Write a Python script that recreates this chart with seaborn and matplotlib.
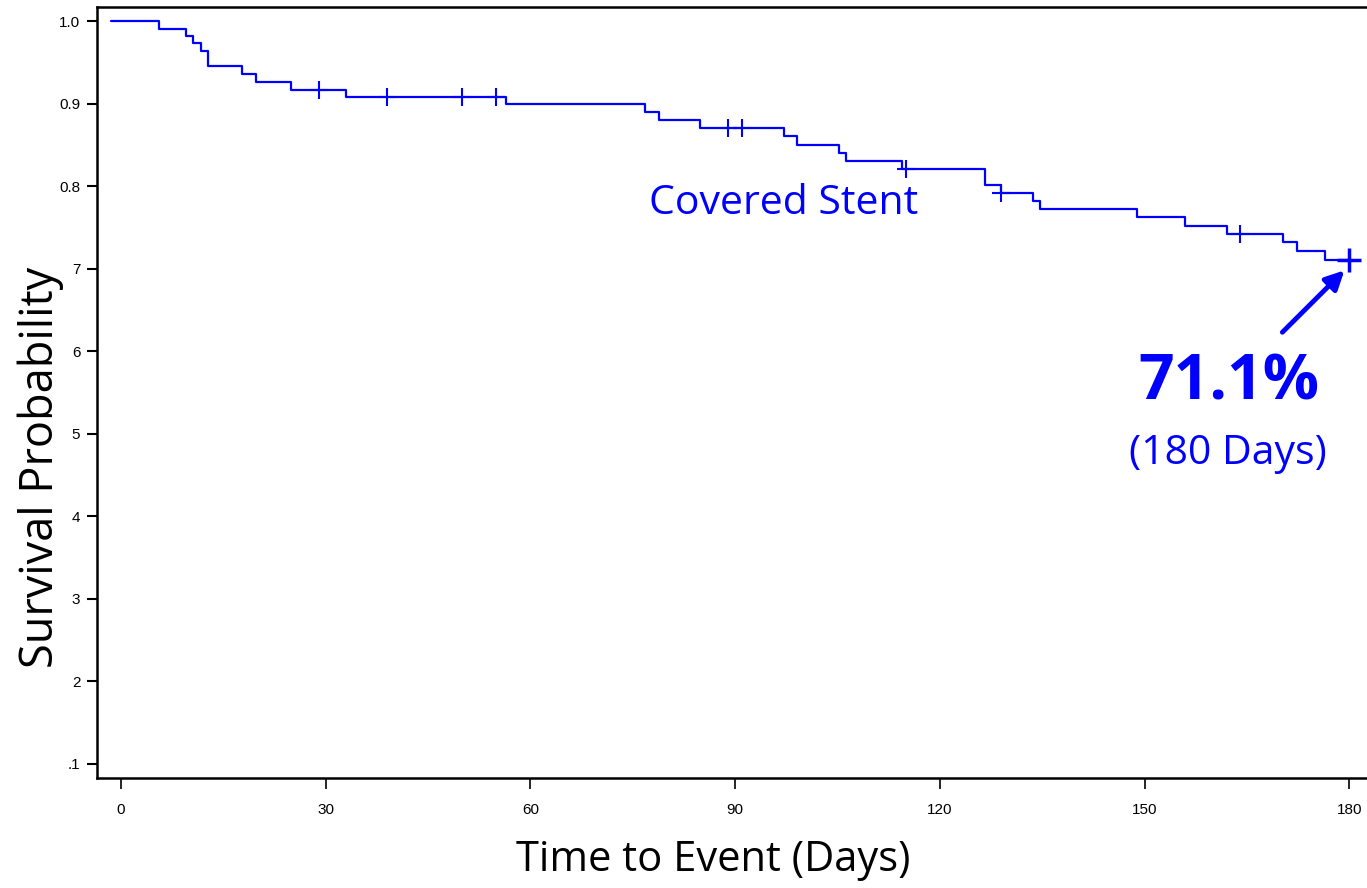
import matplotlib
matplotlib.use("Agg")
import matplotlib.pyplot as plt
import numpy as np
import pandas as pd
import seaborn as sns

# Kaplan-Meier steps (days, survival)
step_days = [-1.5, 5.6, 9.6, 10.6, 11.7, 12.7, 17.8, 19.8, 24.9, 33.0,
             56.4, 76.8, 78.8, 84.9, 97.1, 99.1, 105.2, 106.3, 114.4, 126.6,
             129.0, 133.7, 134.7, 148.9, 156.0, 162.1, 170.3, 172.3, 176.4, 180.0]
step_surv = [1.000, 0.990, 0.982, 0.973, 0.964, 0.945, 0.936, 0.926, 0.917, 0.908,
             0.899, 0.890, 0.880, 0.870, 0.861, 0.850, 0.840, 0.831, 0.821, 0.801,
             0.792, 0.782, 0.772, 0.762, 0.752, 0.742, 0.732, 0.722, 0.711, 0.711]

# censored observations
censor_days = [29, 39, 50, 55, 89, 91, 115, 129, 164]
censor_surv = [0.917, 0.908, 0.908, 0.908, 0.870, 0.870, 0.821, 0.792, 0.742]
final_day = [180]
final_surv = [0.711]

x_ticks = [0, 30, 60, 90, 120, 150, 180]
y_ticks = [1.0, 0.9, 0.8, 0.7, 0.6, 0.5, 0.4, 0.3, 0.2, 0.1]
y_tick_labels = ["1.0", "0.9", "0.8", "7", "6", "5", "4", "3", "2", ".1"]

BLUE = "#0000FF"
TEXT_FONT = ["Open Sans", "DejaVu Sans"]
TICK_FONT = ["Liberation Sans Narrow", "Liberation Sans", "DejaVu Sans"]

sns.set_style("white")

fig = plt.figure(figsize=(13.67, 8.88), dpi=100)
ax = fig.add_axes([97 / 1367, 1 - 778 / 888, 1 - 97 / 1367, (778 - 7) / 888])

steps = pd.DataFrame({"day": step_days, "surv": step_surv})
sns.lineplot(data=steps, x="day", y="surv", drawstyle="steps-post",
             color=BLUE, linewidth=1.6, ax=ax)

cens = pd.DataFrame({"day": censor_days, "surv": censor_surv})
sns.scatterplot(data=cens, x="day", y="surv", marker="+", s=150,
                color=BLUE, linewidth=1.5, ax=ax)
last = pd.DataFrame({"day": final_day, "surv": final_surv})
sns.scatterplot(data=last, x="day", y="surv", marker="+", s=300,
                color=BLUE, linewidth=2.5, ax=ax)

ax.set_xlim(-3.5, 182.6)
ax.set_ylim(0.083, 1.017)
ax.set_xticks(x_ticks)
ax.set_xticklabels([str(t) for t in x_ticks], family=TICK_FONT, fontsize=11)
ax.set_yticks(y_ticks)
ax.set_yticklabels(y_tick_labels, family=TICK_FONT, fontsize=11)
ax.tick_params(axis="x", direction="out", length=8, width=1.2, pad=10, colors="black")
ax.tick_params(axis="y", direction="out", length=7, width=1.5, pad=5, colors="black")
ax.tick_params(bottom=True, left=True)

for side in ["left", "bottom", "top"]:
    ax.spines[side].set_visible(True)
    ax.spines[side].set_color("black")
    ax.spines[side].set_linewidth(1.8)
ax.spines["right"].set_visible(False)

ax.set_xlabel("Time to Event (Days)", family=TEXT_FONT, fontsize=30, color="black")
ax.xaxis.label.set_va("center")
ax.xaxis.set_label_coords(0.485, -0.106)
ax.set_ylabel("Survival Probability", family=TEXT_FONT, fontsize=32.5, color="black")
ax.yaxis.label.set_va("center")
ax.yaxis.label.set_ha("center")
ax.yaxis.set_label_coords(-0.044, 0.403)

ax.text(97.1, 0.779, "Covered Stent", family=TEXT_FONT, fontsize=29.5,
        color=BLUE, ha="center", va="center")
ax.text(162.3, 0.561, "71.1%", family=TEXT_FONT, fontsize=45, fontweight="bold",
        color=BLUE, ha="center", va="center")
ax.text(162.2, 0.476, "(180 Days)", family=TEXT_FONT, fontsize=29.5,
        color=BLUE, ha="center", va="center")
ax.annotate("", xy=(179.3, 0.698), xytext=(170.2, 0.623),
            arrowprops=dict(arrowstyle="-|>", color=BLUE, lw=3.5,
                            mutation_scale=28, shrinkA=0, shrinkB=0))

fig.savefig("out.png", dpi=100)
